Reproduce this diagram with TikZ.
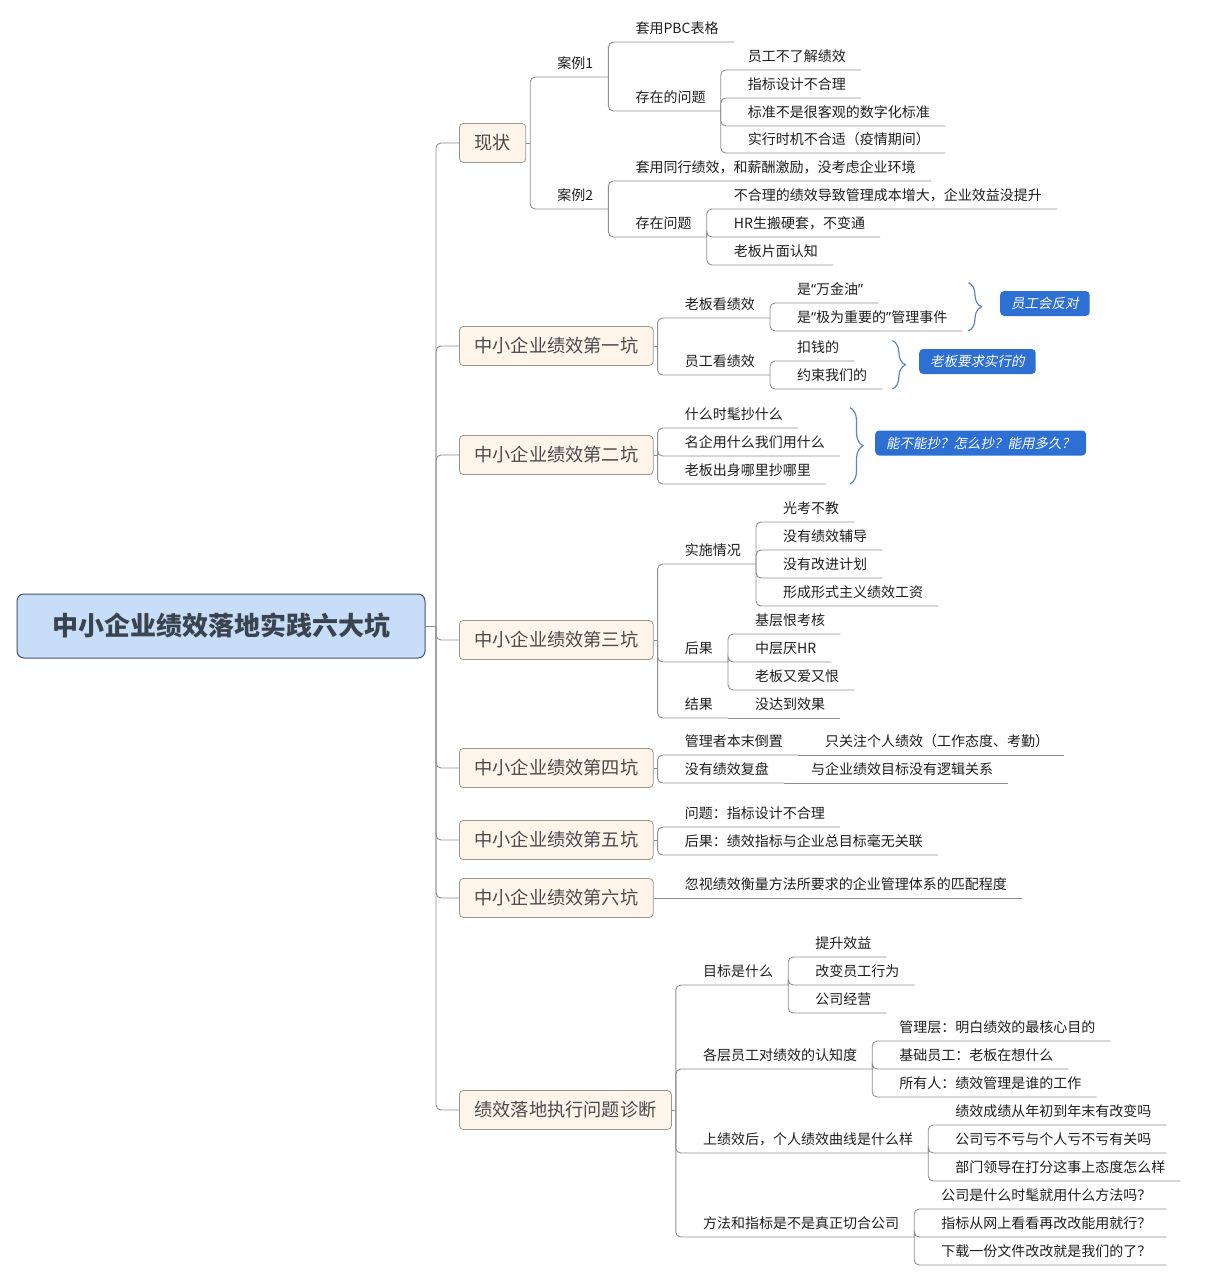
\documentclass[tikz,border=0pt]{standalone}
\usepackage{fontspec}
\setmainfont{Noto Sans CJK SC}
\newfontfamily\notefont[FakeSlant=0.2]{Noto Sans CJK SC}
\newfontfamily\quotefont{Noto Sans}
\newcommand\openq{{\quotefont “}}
\newcommand\closeq{{\quotefont ”}}
\usetikzlibrary{decorations.pathreplacing}
\definecolor{rootfill}{HTML}{C8DDF8}
\definecolor{rootdraw}{HTML}{44546A}
\definecolor{roottext}{HTML}{3A4350}
\definecolor{topicfill}{HTML}{FDF4EA}
\definecolor{topicdraw}{HTML}{9E958C}
\definecolor{topictext}{HTML}{4A4A4A}
\definecolor{linegray}{HTML}{8E8E8E}
\definecolor{leaftext}{HTML}{1E1E1E}
\definecolor{notefill}{HTML}{2E6FD3}
\definecolor{bracecol}{HTML}{5A86C6}
\begin{document}
\begin{tikzpicture}[x=1pt,y=-1pt]
            \tikzset{
	link/.style={draw=linegray, line width=.9pt, rounded corners=5pt},
	sub/.style={anchor=south west, inner xsep=15pt, inner ysep=0pt, text height=12pt, text depth=8pt,
		text=leaftext, font=\fontsize{14}{16}\selectfont, execute at begin node={\hspace*{12pt}}},
	topic/.style={anchor=west, draw=topicdraw, fill=topicfill, rounded corners=4pt, line width=.8pt,
		minimum height=39pt, inner xsep=15pt, text=topictext, font=\fontsize{18.2}{20}\selectfont},
	note/.style={anchor=west, fill=notefill, rounded corners=4pt, minimum height=25pt, inner xsep=11pt,
		text=white, font=\notefont\fontsize{13.5}{15}\selectfont},
	sumbrace/.style={draw=bracecol, line width=1.2pt, decorate, decoration={brace, amplitude=13pt}}
}
\useasboundingbox (0,0) rectangle (1207,1281);

% root and main topics
\node[draw=rootdraw, fill=rootfill, rounded corners=7pt, line width=1pt, minimum width=408pt,
	minimum height=64pt, text=roottext, font=\bfseries\fontsize{26}{28}\selectfont] (root) at (221,626) {中小企业绩效落地实践六大坑};
\node[topic] (xz) at (459,143) {现状};
\node[topic] (k1) at (459,346) {中小企业绩效第一坑};
\node[topic] (k2) at (459,455) {中小企业绩效第二坑};
\node[topic] (k3) at (459,640) {中小企业绩效第三坑};
\node[topic] (k4) at (459,768) {中小企业绩效第四坑};
\node[topic] (k5) at (459,840) {中小企业绩效第五坑};
\node[topic] (k6) at (459,898) {中小企业绩效第六坑};
\node[topic] (zd) at (459,1110) {绩效落地执行问题诊断};

\coordinate (tr) at (436,626);
\draw[link] (root.east) -- (tr);
\foreach \t in {xz,k1,k2,k3,k4,k5,k6,zd}
	\draw[link] (tr) |- (\t.west);
\foreach \t in {xz,k1,k2,k3,k4,k5,k6,zd} {
	\coordinate (b\t) at ([xshift=4pt]\t.east);
	\draw[link] (\t.east) -- (b\t);
}

% 现状
\node[sub] (al1) at (bxz |- 0,77) {案例1};
\node[sub] (al1a) at (al1.south east |- 0,42) {套用PBC表格};
\node[sub] (al1b) at (al1.south east |- 0,111) {存在的问题};
\node[sub] (al1b1) at (al1b.south east |- 0,70) {员工不了解绩效};
\node[sub] (al1b2) at (al1b.south east |- 0,98) {指标设计不合理};
\node[sub] (al1b3) at (al1b.south east |- 0,126) {标准不是很客观的数字化标准};
\node[sub] (al1b4) at (al1b.south east |- 0,153) {实行时机不合适（疫情期间）};
\node[sub] (al2) at (bxz |- 0,209) {案例2};
\node[sub] (al2a) at (al2.south east |- 0,181) {套用同行绩效，和薪酬激励，没考虑企业环境};
\node[sub] (al2b) at (al2.south east |- 0,237) {存在问题};
\node[sub] (al2b1) at (al2b.south east |- 0,209) {不合理的绩效导致管理成本增大，企业效益没提升};
\node[sub] (al2b2) at (al2b.south east |- 0,237) {HR生搬硬套，不变通};
\node[sub] (al2b3) at (al2b.south east |- 0,265) {老板片面认知};
\draw[link] (bxz) |- (al1.south east);
\draw[link] (bxz) |- (al2.south east);
\foreach \c in {al1a,al1b} \draw[link] (al1.south east) |- (\c.south east);
\foreach \c in {al1b1,al1b2,al1b3,al1b4} \draw[link] (al1b.south east) |- (\c.south east);
\foreach \c in {al2a,al2b} \draw[link] (al2.south east) |- (\c.south east);
\foreach \c in {al2b1,al2b2,al2b3} \draw[link] (al2b.south east) |- (\c.south east);

% 第一坑
\node[sub] (k1a) at (bk1 |- 0,318) {老板看绩效};
\node[sub] (k1a1) at (k1a.south east |- 0,303) {是\openq 万金油\closeq};
\node[sub] (k1a2) at (k1a.south east |- 0,331) {是\openq 极为重要的\closeq 管理事件};
\node[sub] (k1b) at (bk1 |- 0,375) {员工看绩效};
\node[sub] (k1b1) at (k1b.south east |- 0,361) {扣钱的};
\node[sub] (k1b2) at (k1b.south east |- 0,389) {约束我们的};
\foreach \c in {k1a,k1b} \draw[link] (bk1) |- (\c.south east);
\foreach \c in {k1a1,k1a2} \draw[link] (k1a.south east) |- (\c.south east);
\foreach \c in {k1b1,k1b2} \draw[link] (k1b.south east) |- (\c.south east);
\node[note] (n1) at (1000,303.5) {员工会反对};
\node[note] (n2) at (919,361.5) {老板要求实行的};
\draw[sumbrace] ([xshift=6pt]k1a2.south east |- k1a1.north) -- ([xshift=6pt]k1a2.south east);
\draw[sumbrace] ([xshift=10pt]k1b2.south east |- k1b1.north) -- ([xshift=10pt]k1b2.south east);

% 第二坑
\node[sub] (k2a) at (bk2 |- 0,428) {什么时髦抄什么};
\node[sub] (k2b) at (bk2 |- 0,456) {名企用什么我们用什么};
\node[sub] (k2c) at (bk2 |- 0,484) {老板出身哪里抄哪里};
\foreach \c in {k2a,k2b,k2c} \draw[link] (bk2) |- (\c.south east);
\node[note] (n3) at (875,443) {能不能抄？怎么抄？能用多久？};
\draw[sumbrace] ([xshift=10pt]k2b.south east |- k2a.north) -- ([xshift=10pt]k2b.south east |- k2c.south);

% 第三坑
\node[sub] (k3a) at (bk3 |- 0,564) {实施情况};
\node[sub] (k3a1) at (k3a.south east |- 0,522) {光考不教};
\node[sub] (k3a2) at (k3a.south east |- 0,550) {没有绩效辅导};
\node[sub] (k3a3) at (k3a.south east |- 0,578) {没有改进计划};
\node[sub] (k3a4) at (k3a.south east |- 0,606) {形成形式主义绩效工资};
\node[sub] (k3b) at (bk3 |- 0,662) {后果};
\node[sub] (k3b1) at (k3b.south east |- 0,634) {基层恨考核};
\node[sub] (k3b2) at (k3b.south east |- 0,662) {中层厌HR};
\node[sub] (k3b3) at (k3b.south east |- 0,690) {老板又爱又恨};
\node[sub] (k3c) at (bk3 |- 0,718) {结果};
\node[sub] (k3c1) at (k3c.south east |- 0,718) {没达到效果};
\foreach \c in {k3a,k3b,k3c} \draw[link] (bk3) |- (\c.south east);
\foreach \c in {k3a1,k3a2,k3a3,k3a4} \draw[link] (k3a.south east) |- (\c.south east);
\foreach \c in {k3b1,k3b2,k3b3} \draw[link] (k3b.south east) |- (\c.south east);
\draw[link] (k3c.south east) -- (k3c1.south east);

% 第四坑 - 第六坑
\node[sub] (k4a) at (bk4 |- 0,755) {管理者本末倒置};
\node[sub] (k4a1) at (k4a.south east |- 0,755) {只关注个人绩效（工作态度、考勤）};
\node[sub] (k4b) at (bk4 |- 0,783) {没有绩效复盘};
\node[sub] (k4b1) at (k4b.south east |- 0,783) {与企业绩效目标没有逻辑关系};
\foreach \c in {k4a,k4b} \draw[link] (bk4) |- (\c.south east);
\draw[link] (k4a.south east) -- (k4a1.south east);
\draw[link] (k4b.south east) -- (k4b1.south east);
\node[sub] (k5a) at (bk5 |- 0,827) {问题：指标设计不合理};
\node[sub] (k5b) at (bk5 |- 0,855) {后果：绩效指标与企业总目标毫无关联};
\foreach \c in {k5a,k5b} \draw[link] (bk5) |- (\c.south east);
\node[sub] (k6a) at (bk6 |- 0,898) {忽视绩效衡量方法所要求的企业管理体系的匹配程度};
\draw[link] (bk6) -- (k6a.south east);

% 问题诊断
\node[sub] (zda) at (bzd |- 0,985) {目标是什么};
\node[sub] (zda1) at (zda.south east |- 0,957) {提升效益};
\node[sub] (zda2) at (zda.south east |- 0,985) {改变员工行为};
\node[sub] (zda3) at (zda.south east |- 0,1013) {公司经营};
\node[sub] (zdb) at (bzd |- 0,1069) {各层员工对绩效的认知度};
\node[sub] (zdb1) at (zdb.south east |- 0,1041) {管理层：明白绩效的最核心目的};
\node[sub] (zdb2) at (zdb.south east |- 0,1069) {基础员工：老板在想什么};
\node[sub] (zdb3) at (zdb.south east |- 0,1097) {所有人：绩效管理是谁的工作};
\node[sub] (zdc) at (bzd |- 0,1153) {上绩效后，个人绩效曲线是什么样};
\node[sub] (zdc1) at (zdc.south east |- 0,1125) {绩效成绩从年初到年末有改变吗};
\node[sub] (zdc2) at (zdc.south east |- 0,1153) {公司亏不亏与个人亏不亏有关吗};
\node[sub] (zdc3) at (zdc.south east |- 0,1181) {部门领导在打分这事上态度怎么样};
\node[sub] (zdd) at (bzd |- 0,1237) {方法和指标是不是真正切合公司};
\node[sub] (zdd1) at (zdd.south east |- 0,1209) {公司是什么时髦就用什么方法吗？};
\node[sub] (zdd2) at (zdd.south east |- 0,1237) {指标从网上看看再改改能用就行？};
\node[sub] (zdd3) at (zdd.south east |- 0,1265) {下载一份文件改改就是我们的了？};
\foreach \c in {zda,zdb,zdc,zdd} \draw[link] (bzd) |- (\c.south east);
\foreach \p/\c in {zda/zda1,zda/zda2,zda/zda3,zdb/zdb1,zdb/zdb2,zdb/zdb3,
	zdc/zdc1,zdc/zdc2,zdc/zdc3,zdd/zdd1,zdd/zdd2,zdd/zdd3}
	\draw[link] (\p.south east) |- (\c.south east);
        \end{tikzpicture}
\end{document}
